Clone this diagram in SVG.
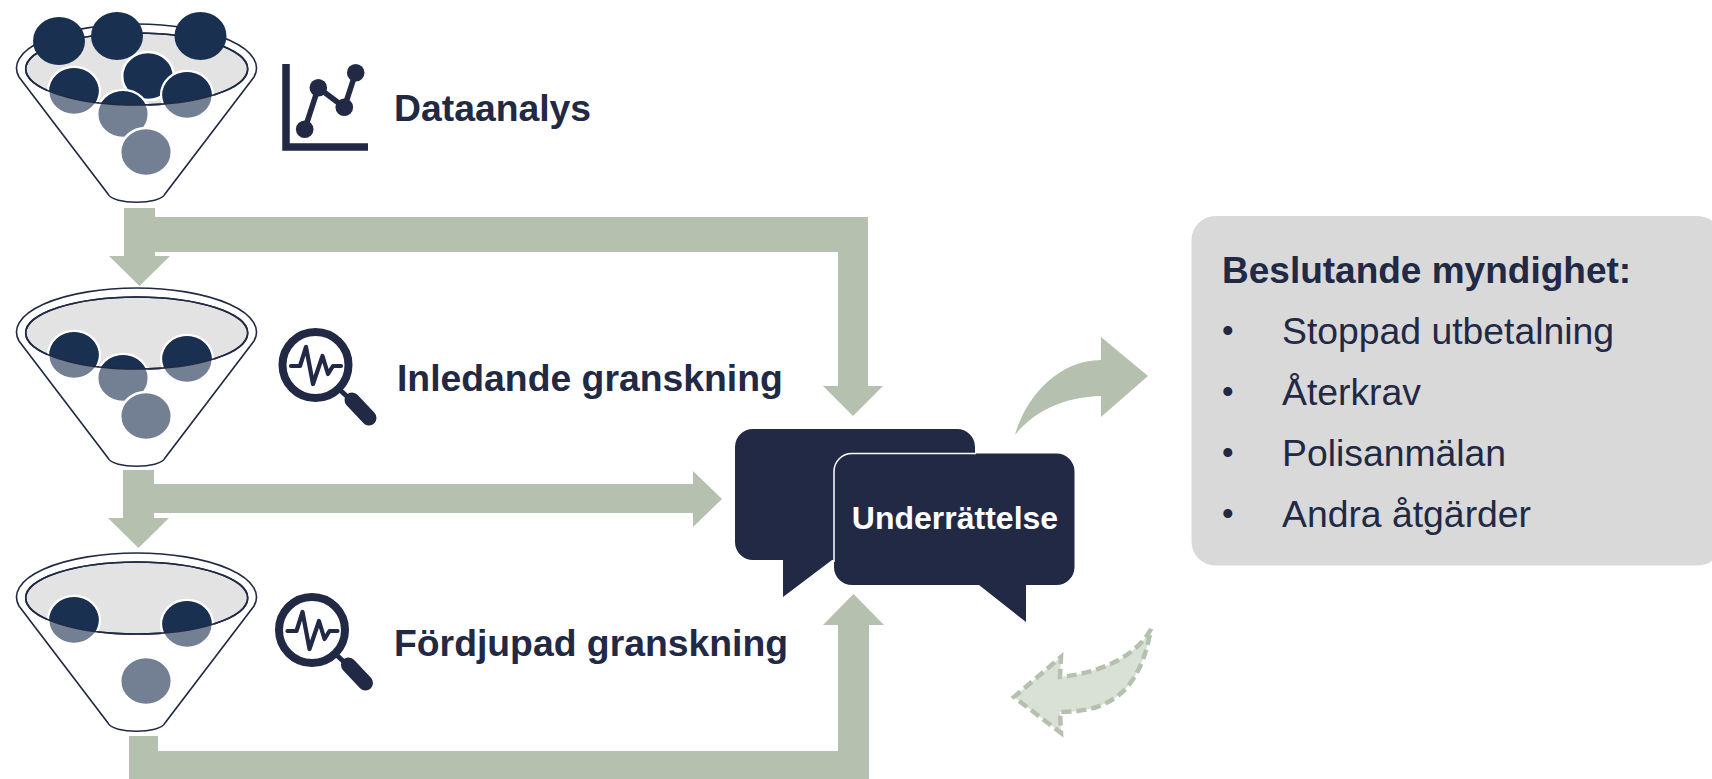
<svg xmlns="http://www.w3.org/2000/svg" width="1712" height="779" viewBox="0 0 1712 779">
<style>
.t{font-family:"Liberation Sans",Arial,sans-serif;fill:#212944}
.b{font-weight:700}
.c{fill:#b5c0ae}
.d{fill:#1a3050}
.l{fill:#737f93}
.w{stroke:#fff;stroke-width:2.500}
.fo{fill:#fff;stroke:#212944;stroke-width:1.6}
.fi{fill:#e3e3e3;stroke:#212944;stroke-width:1.6}
.ln{fill:none;stroke:#212944;stroke-width:1.6}
.ic{fill:none;stroke:#212944;stroke-linecap:round;stroke-linejoin:round}
</style>
<defs>
<path id="funnel" class="fo" d="M19,77A120,44 0 1 1 254,77L165,194C160,205 113,205 108,194Z"/>
<ellipse id="inner" class="fi" cx="136.700" cy="69" rx="111" ry="36"/>
<ellipse id="rim" class="ln" cx="136.700" cy="69" rx="111" ry="36"/>
<clipPath id="ci"><ellipse cx="136.700" cy="69" rx="111" ry="36"/></clipPath>
<g id="lens">
<circle cx="315.500" cy="365" r="33" fill="none" stroke="#212944" stroke-width="8"/>
<path class="ic" stroke-width="4.200" d="M291,366H300L306,347L313,384L322.500,356L328,374L333,366H341"/>
<path class="ic" stroke-width="5" d="M340,390L352,401"/>
<path class="ic" stroke-width="15" d="M352,400L369,418"/>
</g>
</defs>
<g id="connectors">
<path class="c" d="M124,208H155V217H868V386H883L853,416L823,386H838V252H155V256H170L139.500,286L109,256H124Z"/>
<path class="c" d="M123,470H154V484H693V471L722,499L693,527V513H154V518H169L138.500,548L108,518H123Z"/>
<path class="c" d="M129,736H158V751H838V625H823L853.500,594L884,625H869V779H129Z"/>
<path class="c" d="M1015,435C1026,395 1060,360 1101,360V337L1148,376L1101,417V396C1065,397 1035,410 1015,435Z"/>
<path fill="#d9e1d6" stroke="#b5c0ae" stroke-width="4.500" stroke-dasharray="10 5" d="M1151,629C1140,650 1110,672 1060,677L1061,657L1014,697L1061,733L1060,712C1112,712 1140,690 1151,629Z"/>
</g>
<g id="funnel-1">
<use href="#funnel"/><use href="#inner"/>
<ellipse class="d w" cx="148" cy="76" rx="25.800" ry="24"/>
<ellipse class="l w" cx="74" cy="91" rx="25.800" ry="24"/>
<ellipse class="l w" cx="187" cy="95" rx="25.800" ry="24"/>
<ellipse class="l w" cx="123" cy="114" rx="25.800" ry="24"/>
<ellipse class="l w" cx="146" cy="152" rx="25.800" ry="24"/>
<g clip-path="url(#ci)"><ellipse class="d" cx="74" cy="91" rx="24.800" ry="23"/><ellipse class="d" cx="187" cy="95" rx="24.800" ry="23"/><ellipse class="d" cx="123" cy="114" rx="24.800" ry="23"/></g>
<use href="#rim"/>
<ellipse class="d" cx="59" cy="41" rx="26" ry="24"/>
<ellipse class="d" cx="117" cy="36" rx="26" ry="24"/>
<ellipse class="d" cx="200.500" cy="36" rx="26" ry="24"/>
</g>
<g id="funnel-2" transform="translate(0,264)">
<use href="#funnel"/><use href="#inner"/>
<ellipse class="l w" cx="74" cy="91" rx="25.800" ry="24"/>
<ellipse class="l w" cx="187" cy="95" rx="25.800" ry="24"/>
<ellipse class="l w" cx="123" cy="114" rx="25.800" ry="24"/>
<ellipse class="l w" cx="146" cy="152" rx="25.800" ry="24"/>
<g clip-path="url(#ci)"><ellipse class="d" cx="74" cy="91" rx="24.800" ry="23"/><ellipse class="d" cx="187" cy="95" rx="24.800" ry="23"/><ellipse class="d" cx="123" cy="114" rx="24.800" ry="23"/></g>
<use href="#rim"/>
</g>
<g id="funnel-3" transform="translate(0,529)">
<use href="#funnel"/><use href="#inner"/>
<ellipse class="l w" cx="74" cy="91" rx="25.800" ry="24"/>
<ellipse class="l w" cx="187" cy="95" rx="25.800" ry="24"/>
<ellipse class="l w" cx="146" cy="152" rx="25.800" ry="24"/>
<g clip-path="url(#ci)"><ellipse class="d" cx="74" cy="91" rx="24.800" ry="23"/><ellipse class="d" cx="187" cy="95" rx="24.800" ry="23"/></g>
<use href="#rim"/>
</g>
<g id="icon-chart">
<path d="M286,64V147H368" fill="none" stroke="#212944" stroke-width="7.500"/>
<path class="ic" stroke-width="5.500" d="M304.700,129.300L318.300,87.700L344.300,107.300L355.700,72.700"/>
<circle cx="304.700" cy="129.300" r="8.800" fill="#212944"/><circle cx="318.300" cy="87.700" r="8.800" fill="#212944"/><circle cx="344.300" cy="107.300" r="8.800" fill="#212944"/><circle cx="355.700" cy="72.700" r="8.800" fill="#212944"/>
</g>
<g id="icon-lens-1"><use href="#lens"/></g>
<g id="icon-lens-2" transform="translate(-3.500,265)"><use href="#lens"/></g>
<g id="label-1"><text class="t b" x="394" y="120.500" font-size="37.330">Dataanalys</text></g>
<g id="label-2"><text class="t b" x="397" y="391" font-size="37.330">Inledande granskning</text></g>
<g id="label-3"><text class="t b" x="394" y="655.500" font-size="37.330">Fördjupad granskning</text></g>
<g id="bubble">
<path fill="#212944" d="M753,429H957A18,18 0 0 1 975,447V542A18,18 0 0 1 957,560H832L783,597V560H753A18,18 0 0 1 735,542V447A18,18 0 0 1 753,429Z"/>
<path fill="#212944" d="M852,453.500H1056.500A18,18 0 0 1 1074.500,471.500V567A18,18 0 0 1 1056.500,585H1026V622L979,585H852A18,18 0 0 1 834,567V471.500A18,18 0 0 1 852,453.500Z"/>
<path fill="none" stroke="#fff" stroke-width="1.500" d="M834,562V471.500A18,18 0 0 1 852,453.500H976"/>
<text x="955" y="529" font-size="32" text-anchor="middle" font-family="Liberation Sans, Arial, sans-serif" font-weight="700" fill="#fff">Underrättelse</text>
</g>
<g id="decision">
<rect x="1191.500" y="216" width="530" height="349.500" rx="24" fill="#d9d9d9"/>
<text class="t b" x="1222" y="283" font-size="37">Beslutande myndighet:</text>
<g class="t" font-size="37.330">
<text x="1222" y="342" font-size="33">•</text><text x="1282" y="343.500">Stoppad utbetalning</text>
<text x="1222" y="403" font-size="33">•</text><text x="1282" y="405">Återkrav</text>
<text x="1222" y="464" font-size="33">•</text><text x="1282" y="466">Polisanmälan</text>
<text x="1222" y="525" font-size="33">•</text><text x="1282" y="527">Andra åtgärder</text>
</g>
</g>
</svg>
